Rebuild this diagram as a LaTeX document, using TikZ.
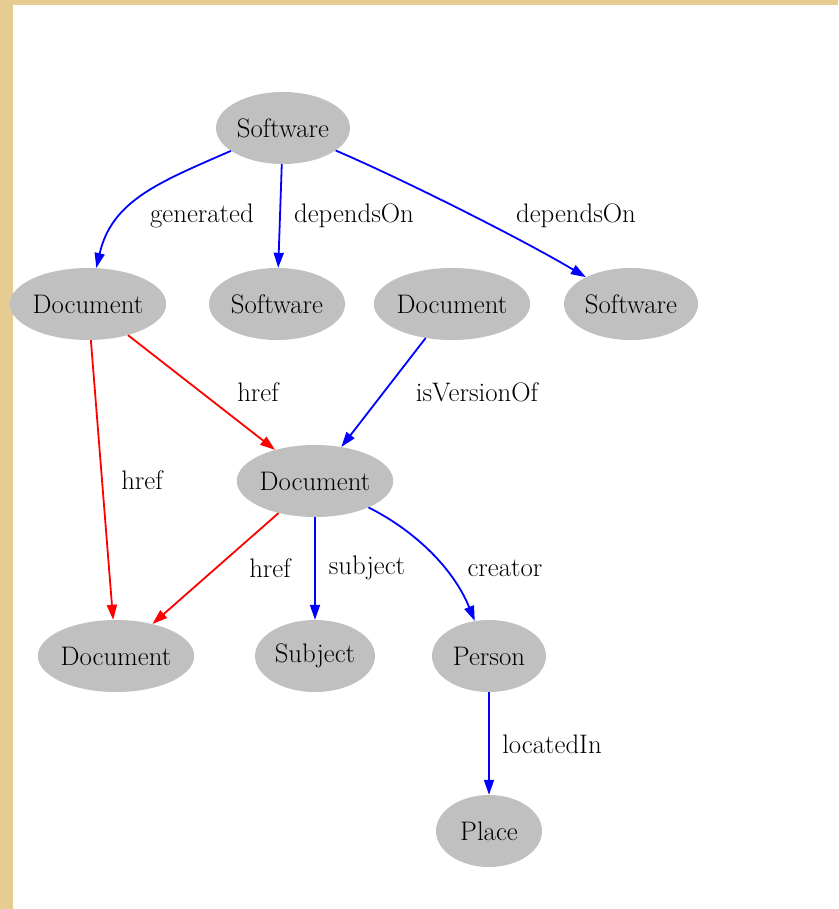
\documentclass[tikz,border=0pt]{standalone}
\usetikzlibrary{arrows.meta,shapes.geometric}
\definecolor{tan}{HTML}{E7CC92}
\definecolor{nodegray}{HTML}{C0C0C0}
\definecolor{eblue}{HTML}{0000FF}
\definecolor{ered}{HTML}{FF0000}
\begin{document}
\begin{tikzpicture}[x=1pt,y=-1pt,
  every node/.style={font=\fontsize{26.8}{30}\selectfont},
  ent/.style={ellipse,fill=nodegray,inner sep=0pt,minimum height=72pt},
  lbl/.style={inner sep=0pt},
  rel/.style={line width=1.8pt,-{Triangle[length=15pt,width=10pt]}},
  bl/.style={rel,eblue},
  rd/.style={rel,ered}]
\useasboundingbox (0,0) rectangle (838,909);
\fill[tan] (0,0) rectangle (838,909);
\fill[white] (13,5) rectangle (838,909);
% nodes
\node[ent,minimum width=134pt] (sw) at (283,128) {Software};
\node[ent,minimum width=150pt] (d1) at (88,304) {Document};
\node[ent,minimum width=136pt] (sw2) at (277,304) {Software};
\node[ent,minimum width=146pt] (d2) at (452,304) {Document};
\node[ent,minimum width=134pt] (sw3) at (631,304) {Software};
\node[ent,minimum width=150pt] (dc) at (315,481) {Document};
\node[ent,minimum width=150pt] (db) at (116,656) {Document};
\node[ent,minimum width=120pt] (sub) at (315,656) {Subject};
\node[ent,minimum width=114pt] (per) at (489,656) {Person};
\node[ent,minimum width=106pt] (pl) at (489,831) {Place};
% edges
\draw[bl] (sw) .. controls (160,182) and (112,200) .. (d1);
\draw[bl] (sw) -- (sw2);
\draw[bl] (sw) .. controls (400,178) and (520,238) .. (sw3);
\draw[rd] (d1) -- (dc);
\draw[rd] (d1) -- (db);
\draw[bl] (d2) -- (dc);
\draw[rd] (dc) -- (db);
\draw[bl] (dc) -- (sub);
\draw[bl] (dc) .. controls (410,528) and (452,565) .. (per);
\draw[bl] (per) -- (pl);
% labels
\node[lbl] (l1) at (202,216) {generated};
\node[lbl] (l2) at (354,216) {dependsOn};
\node[lbl] (l3) at (576,216) {dependsOn};
\node[lbl] (l4) at (258,392) {href};
\node[lbl] (l5) at (477,392) {isVersionOf};
\node[lbl] (l6) at (142,480) {href};
\node[lbl] (l7) at (270,568) {href};
\node[lbl] (l8) at (367,568) {subject};
\node[lbl] (l9) at (505,568) {creator};
\node[lbl] (l10) at (552,744) {locatedIn};
\end{tikzpicture}
\end{document}
